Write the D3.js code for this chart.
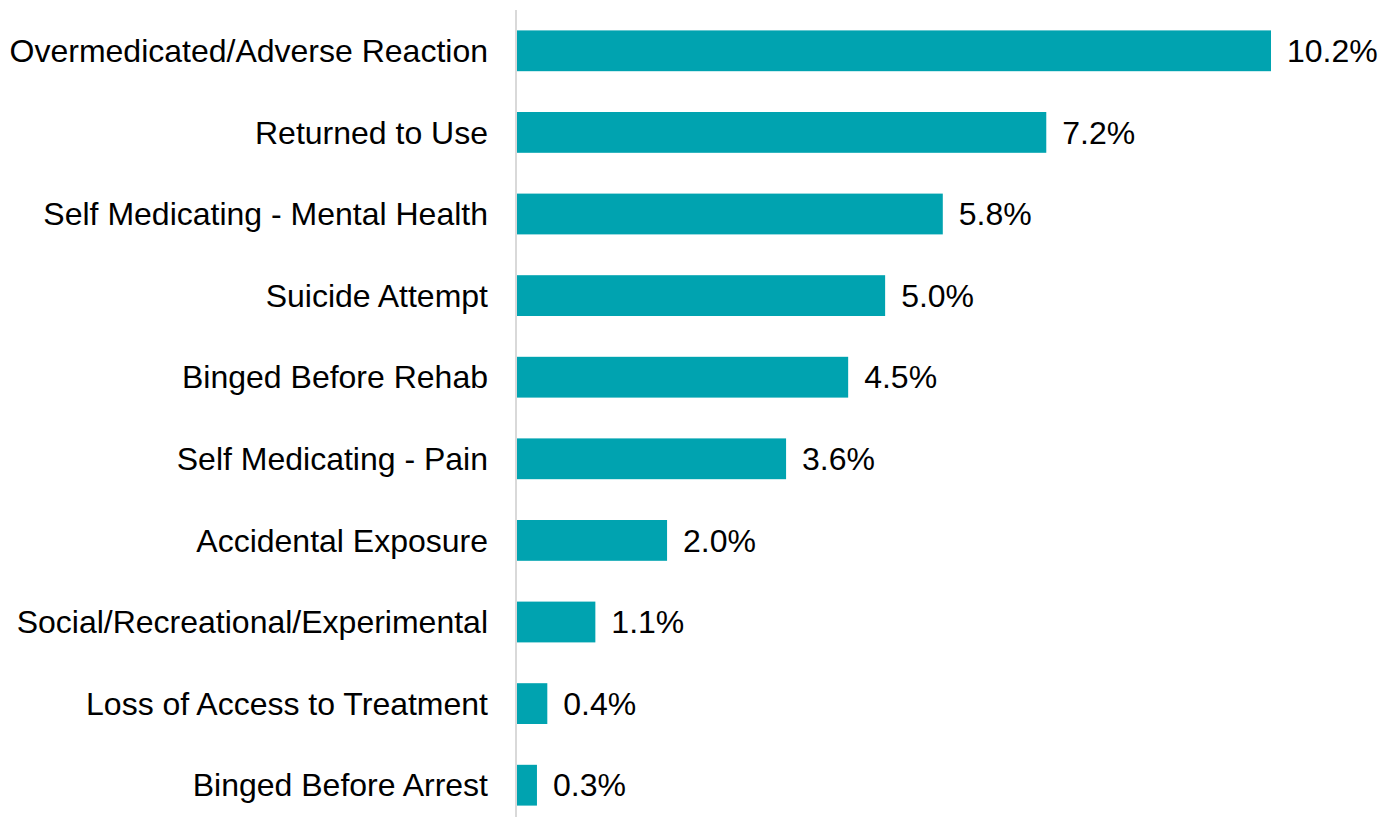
<!DOCTYPE html>
<html><head><meta charset="utf-8">
<script src="https://cdn.jsdelivr.net/npm/d3@7"></script>
<style>body{margin:0;background:#fff;} svg{display:block;}</style>
</head><body>
<svg id="c" width="1390" height="817"></svg>
<script>
const categories = ["Overmedicated/Adverse Reaction","Returned to Use","Self Medicating - Mental Health","Suicide Attempt","Binged Before Rehab","Self Medicating - Pain","Accidental Exposure","Social/Recreational/Experimental","Loss of Access to Treatment","Binged Before Arrest"];
const values = [10.2,7.16,5.76,4.98,4.48,3.64,2.03,1.06,0.41,0.27];
const labels = ["10.2%","7.2%","5.8%","5.0%","4.5%","3.6%","2.0%","1.1%","0.4%","0.3%"];

const svg = d3.select("#c");
const x = d3.scaleLinear().domain([0, 10.2]).range([517, 1271]);
const y = d3.scaleBand().domain(categories).range([10, 826]).paddingInner(0.5).paddingOuter(0.25);
const font = "Liberation Sans, Arial, sans-serif";

svg.append("g").selectAll("rect").data(categories).join("rect")
  .attr("x", x(0)).attr("y", d => y(d))
  .attr("width", (d,i) => x(values[i]) - x(0))
  .attr("height", y.bandwidth())
  .attr("fill", "#00a3b0");

svg.append("line").attr("x1", 516).attr("x2", 516).attr("y1", 10).attr("y2", 817)
  .attr("stroke", "#d9d9d9").attr("stroke-width", 2);

svg.append("g").selectAll("text").data(categories).join("text")
  .attr("x", 488).attr("y", d => y(d) + y.bandwidth()/2)
  .attr("dy", "0.35em").attr("text-anchor", "end")
  .attr("font-family", font).attr("font-size", 32).attr("fill", "#000")
  .text(d => d);

svg.append("g").selectAll("text").data(categories).join("text")
  .attr("x", (d,i) => x(values[i]) + 16).attr("y", d => y(d) + y.bandwidth()/2)
  .attr("dy", "0.35em")
  .attr("font-family", font).attr("font-size", 32).attr("fill", "#000")
  .text((d,i) => labels[i]);
</script>
</body></html>
